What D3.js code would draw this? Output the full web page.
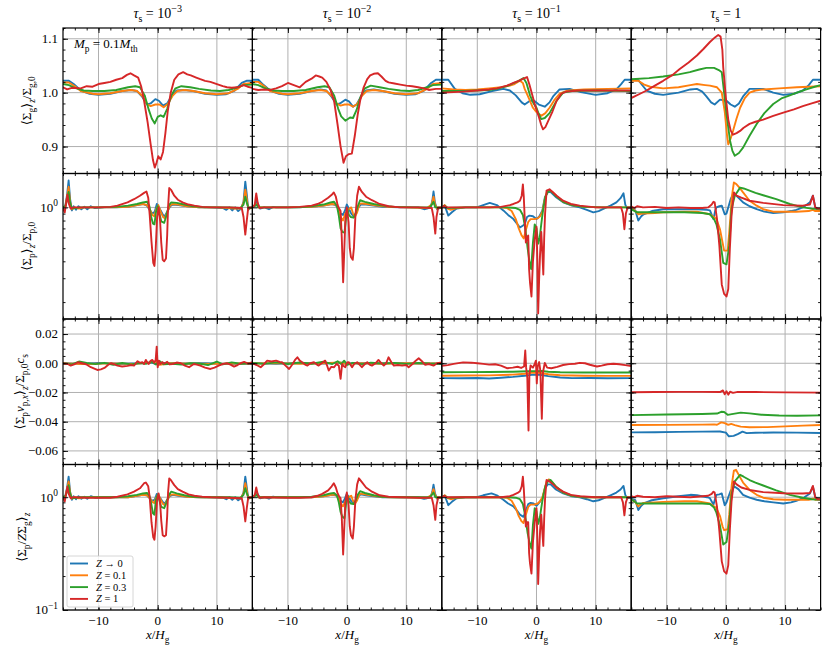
<!DOCTYPE html>
<html>
<head>
<meta charset="utf-8">
<script src="https://cdn.jsdelivr.net/npm/d3@7"></script>
<style>
body { margin: 0; background: #fff; }
text { font-family: "Liberation Serif", "DejaVu Serif", serif; fill: #000; }
</style>
</head>
<body>
<svg id="fig" width="830" height="653" font-family="Liberation Serif"></svg>
<script>
// columns: tau_s = 1e-3, 1e-2, 1e-1, 1 ; series: Z->0, 0.1, 0.3, 1
var tauExps = ["−3", "−2", "−1", null];
var seriesNames = ["→ 0", "= 0.1", "= 0.3", "= 1"];
var colors = ["#1f77b4", "#ff7f0e", "#2ca02c", "#d62728"];
var xMajor = [-10, 0, 10];
var gasTicks = [0.9, 1.0, 1.1];
var fluxTicks = [0.02, 0, -0.02, -0.04, -0.06];
var dustTicks = [1];
var ratioTicks = [0.1, 1];

// row 1 : <Sigma_g>_z / Sigma_g,0
var gas_t3 = [
 [[-16,1.022],[-15,1.022],[-14.2,1.016],[-13,1.004],[-11.5,0.998],[-10,0.996],[-8,0.998],[-6,1.003],[-4.5,1.005],[-3.5,1.003],[-2.6,0.992],[-1.8,0.978],[-1.2,0.98],[-0.4,0.988],[0.2,0.985],[0.9,0.976],[1.6,0.98],[2.4,0.995],[3.2,1.004],[4.5,1.005],[6,1.003],[8,0.998],[10,0.996],[11.5,0.997],[13,1.004],[14.2,1.018],[15,1.022],[16,1.022]],
 [[-16,1.019],[-15,1.019],[-14,1.012],[-13,1.003],[-11,0.998],[-10,0.997],[-8,0.999],[-6,1.003],[-4.5,1.005],[-3.5,1.003],[-2.5,0.993],[-1.8,0.979],[-1.2,0.975],[-0.4,0.978],[0.3,0.978],[1,0.973],[1.7,0.979],[2.5,0.994],[3.3,1.003],[4.5,1.005],[6,1.003],[8,0.999],[10,0.997],[12,0.999],[13.5,1.007],[14.5,1.016],[16,1.018]],
 [[-16,1.016],[-15,1.014],[-14,1.009],[-12.5,1.004],[-11,1.003],[-9,1.003],[-7,1.005],[-5,1.01],[-3.8,1.012],[-3,1.01],[-2.2,0.995],[-1.5,0.968],[-1,0.952],[-0.5,0.943],[0,0.955],[0.5,0.958],[1,0.955],[1.6,0.97],[2.3,0.995],[3,1.008],[4,1.012],[5.5,1.01],[7,1.007],[9,1.004],[10.5,1.003],[12,1.005],[13.5,1.01],[14.5,1.014],[16,1.015]],
 [[-16,1.01],[-15.3,1.006],[-14.5,1.009],[-13,1.008],[-12,1.012],[-11,1.011],[-10,1.016],[-9,1.018],[-8,1.02],[-7,1.024],[-6,1.027],[-5.2,1.033],[-4.6,1.036],[-4,1.032],[-3.3,1.028],[-2.8,1.012],[-2.3,0.985],[-1.7,0.945],[-1.2,0.905],[-0.8,0.875],[-0.5,0.861],[-0.2,0.87],[0.1,0.882],[0.5,0.876],[0.9,0.89],[1.3,0.925],[1.7,0.966],[2.2,1.0],[2.8,1.024],[3.5,1.034],[4.3,1.038],[5,1.034],[5.6,1.032],[6.5,1.028],[7.2,1.025],[8,1.022],[8.9,1.02],[10,1.016],[11,1.012],[11.7,1.01],[12.5,1.009],[13.5,1.01],[14.5,1.014],[15.2,1.011],[16,1.009]]
];
var gas_t2 = [
 [[-16,1.024],[-15,1.024],[-14.2,1.015],[-13,1.004],[-11.5,0.998],[-10,0.996],[-8,0.998],[-6,1.003],[-4.5,1.006],[-3.5,1.004],[-2.6,0.992],[-1.8,0.978],[-1.2,0.98],[-0.3,0.987],[0.3,0.984],[1,0.974],[1.6,0.978],[2.4,0.994],[3.2,1.004],[4.5,1.006],[6,1.003],[8,0.998],[10,0.996],[11.5,0.997],[13,1.004],[14.2,1.018],[15,1.024],[16,1.024]],
 [[-16,1.02],[-15,1.02],[-14,1.012],[-13,1.003],[-11,0.998],[-10,0.997],[-8,0.999],[-6,1.003],[-4.5,1.005],[-3.5,1.003],[-2.5,0.993],[-1.8,0.98],[-1.1,0.976],[-0.4,0.978],[0.3,0.978],[1,0.974],[1.7,0.979],[2.5,0.994],[3.3,1.003],[4.5,1.005],[6,1.003],[8,0.999],[10,0.997],[12,0.999],[13.5,1.007],[14.5,1.016],[16,1.018]],
 [[-16,1.016],[-15,1.014],[-14,1.009],[-12.5,1.004],[-11,1.003],[-9,1.003],[-7,1.005],[-5,1.01],[-3.8,1.012],[-3,1.01],[-2.2,0.995],[-1.5,0.97],[-1,0.956],[-0.3,0.948],[0.5,0.954],[1,0.953],[1.6,0.968],[2.3,0.993],[3,1.008],[4,1.013],[5.5,1.01],[7,1.007],[9,1.004],[10.5,1.003],[12,1.005],[13.5,1.01],[14.5,1.014],[16,1.015]],
 [[-16,1.007],[-15,1.005],[-14,1.006],[-13,1.005],[-12,1.008],[-11,1.012],[-10,1.018],[-9,1.014],[-8,1.01],[-7,1.02],[-6,1.026],[-5.3,1.032],[-4.7,1.03],[-4.2,1.028],[-3.5,1.02],[-2.8,1.005],[-2.2,0.985],[-1.6,0.94],[-1.1,0.9],[-0.6,0.87],[-0.2,0.882],[0.3,0.886],[0.8,0.887],[1.3,0.92],[1.8,0.96],[2.2,0.985],[2.8,1.01],[3.4,1.025],[3.9,1.032],[4.5,1.035],[5.2,1.036],[5.8,1.03],[6.5,1.022],[7,1.019],[8,1.017],[9,1.015],[10,1.013],[11,1.012],[12,1.01],[13,1.008],[13.8,1.005],[15,1.007],[16,1.007]]
];
var gas_t1 = [
 [[-16,1.024],[-14.9,1.024],[-13.8,1.007],[-12.5,0.999],[-11.2,0.996],[-9.6,0.997],[-7.5,1.003],[-5.6,1.007],[-4.5,1.004],[-3.5,0.995],[-2.5,0.982],[-2,0.978],[-1.1,0.985],[-0.4,0.985],[0.4,0.978],[1.4,0.974],[2.2,0.982],[2.8,0.993],[3.9,1.006],[5.6,1.007],[7.5,1.001],[10,0.996],[12,0.999],[13.5,1.006],[14.3,1.016],[14.9,1.024],[16,1.024]],
 [[-16,1.008],[-14,1.006],[-12,1.005],[-10,1.006],[-8,1.008],[-6,1.01],[-4.5,1.013],[-3.7,1.016],[-2.8,1.022],[-2.3,1.018],[-2,1.007],[-1.3,0.99],[-0.6,0.972],[0,0.964],[0.8,0.957],[1.5,0.962],[2.2,0.972],[3,0.986],[3.9,0.998],[5,1.003],[5.6,1.004],[8,1.006],[12,1.007],[16,1.008]],
 [[-16,1.003],[-12,1.003],[-8,1.005],[-6.7,1.007],[-5,1.012],[-4,1.017],[-3,1.022],[-2.2,1.027],[-1.7,1.018],[-1.1,0.995],[-0.5,0.98],[0,0.972],[0.4,0.96],[0.8,0.951],[1.4,0.953],[2.2,0.962],[3.4,0.985],[4.5,1.0],[6,1.003],[10,1.004],[16,1.003]],
 [[-16,1.0],[-14,1.001],[-12.4,1.002],[-10,1.004],[-8,1.006],[-6.7,1.008],[-5,1.013],[-3.9,1.018],[-3,1.022],[-2.2,1.026],[-1.6,1.029],[-1.2,1.015],[-0.7,0.995],[-0.2,0.975],[0.4,0.955],[0.8,0.94],[1.1,0.932],[1.5,0.936],[2,0.948],[2.7,0.965],[3.4,0.985],[4.2,0.998],[5,1.002],[7,1.004],[10,1.004],[13,1.004],[16,1.004]]
];
var gas_t0 = [
 [[-16,1.024],[-14.8,1.023],[-13.4,1.004],[-12,0.998],[-10.6,0.996],[-8,1.0],[-6,1.006],[-4.9,1.007],[-4,1.002],[-3.3,0.993],[-2.5,0.982],[-1.9,0.978],[-1,0.987],[0.1,0.985],[0.8,0.978],[1.5,0.974],[2.2,0.98],[2.9,0.993],[4,1.007],[6.3,1.007],[8,1.0],[9.7,0.996],[11.5,0.998],[13,1.004],[14,1.014],[14.7,1.024],[16,1.024]],
 [[-16,1.022],[-14.8,1.022],[-13.8,1.015],[-12.8,1.011],[-10.6,1.008],[-8,1.01],[-6,1.014],[-4.9,1.016],[-3.5,1.014],[-2.7,1.013],[-1.5,1.01],[-0.7,1.0],[-0.2,0.965],[0.2,0.92],[0.4,0.904],[0.8,0.915],[1.2,0.929],[1.8,0.952],[2.4,0.972],[3.2,0.99],[4,1.0],[5,1.004],[6.3,1.006],[9,1.008],[12,1.01],[14,1.011],[16,1.012]],
 [[-16,1.025],[-13,1.027],[-10.6,1.03],[-8,1.034],[-6.1,1.038],[-4.5,1.043],[-3.3,1.046],[-2,1.046],[-1.2,1.042],[-0.7,1.038],[-0.3,1.0],[0.1,0.96],[0.7,0.911],[1.1,0.892],[1.5,0.883],[2.2,0.888],[2.9,0.898],[4,0.92],[5.2,0.942],[6.5,0.962],[8,0.979],[9.5,0.99],[10.8,0.995],[12,1.0],[13.6,1.006],[15,1.011],[16,1.014]],
 [[-16,0.99],[-14.5,0.998],[-13.4,1.004],[-12,1.013],[-10.6,1.022],[-9,1.033],[-7.8,1.044],[-6.3,1.056],[-4.9,1.069],[-3.8,1.081],[-2.7,1.094],[-1.8,1.103],[-1.3,1.107],[-0.9,1.104],[-0.6,1.08],[-0.45,1.047],[0,0.99],[0.4,0.95],[0.8,0.93],[1.2,0.922],[1.8,0.925],[2.4,0.929],[3,0.935],[4,0.942],[5,0.946],[6.3,0.95],[8,0.957],[9.7,0.963],[11.5,0.969],[13,0.975],[14.5,0.98],[16,0.985]]
];

// row 2 : <Sigma_p>_z / Sigma_p,0 (log)
var dust_t3 = [
 [[-16,1.0],[-15.6,1.03],[-15.3,1.25],[-15.05,1.58],[-14.8,1.15],[-14.5,0.95],[-14.2,1.02],[-13.8,0.96],[-13.4,1.02],[-12.9,0.97],[-12.4,1.01],[-11.9,0.97],[-11.3,1.02],[-10.6,0.99],[-9,1.0],[-7,1.0],[-5,1.01],[-3.5,1.04],[-2.5,1.06],[-1.8,1.03],[-1.3,0.95],[-0.9,0.9],[-0.5,0.93],[-0.15,1.06],[0.1,1.02],[0.5,0.95],[0.9,0.88],[1.2,0.86],[1.6,0.93],[2.1,1.02],[2.6,1.05],[3.5,1.04],[5,1.02],[7,1.0],[9,1.0],[11,0.99],[11.6,0.96],[12.1,1.0],[12.6,0.95],[13.1,1.0],[13.6,0.94],[14.1,0.98],[14.5,1.1],[14.8,1.55],[15.05,1.25],[15.3,0.96],[15.6,1.0],[16,1.0]],
 [[-16,1.0],[-15.6,1.02],[-15.3,1.2],[-15.05,1.42],[-14.8,1.1],[-14.5,0.97],[-14,1.0],[-13.3,0.98],[-12.5,1.0],[-11,1.0],[-8,1.0],[-5,1.01],[-3.5,1.04],[-2.5,1.06],[-1.8,1.04],[-1.3,0.96],[-0.9,0.88],[-0.6,0.86],[-0.2,0.98],[0.1,1.04],[0.5,0.93],[0.9,0.85],[1.2,0.83],[1.6,0.92],[2.1,1.04],[2.6,1.06],[3.5,1.05],[5,1.02],[7,1.0],[10,1.0],[12,0.99],[13,0.98],[14,0.98],[14.5,1.08],[14.8,1.35],[15.05,1.15],[15.3,0.97],[16,1.0]],
 [[-16,1.0],[-15.6,1.02],[-15.3,1.15],[-15.05,1.3],[-14.8,1.08],[-14.5,0.98],[-13,1.0],[-10,1.0],[-7,1.01],[-5,1.03],[-3.5,1.06],[-2.5,1.09],[-1.8,1.1],[-1.4,1.02],[-1.1,0.85],[-0.8,0.76],[-0.55,0.75],[-0.3,0.92],[0,1.02],[0.3,0.9],[0.6,0.79],[1.1,0.77],[1.5,0.88],[1.9,1.04],[2.3,1.09],[3.2,1.08],[4.5,1.05],[6,1.02],[8,1.0],[12,1.0],[14,0.99],[14.5,1.05],[14.8,1.2],[15.05,1.08],[15.4,0.98],[16,1.0]],
 [[-16,0.99],[-15.7,0.92],[-15.5,1.05],[-15.25,1.24],[-15,1.06],[-14.7,0.98],[-14.2,1.0],[-12,1.0],[-10,1.0],[-8,1.01],[-6.8,1.03],[-5.1,1.09],[-4,1.15],[-3,1.22],[-2.3,1.28],[-1.9,1.31],[-1.6,1.18],[-1.35,0.88],[-1.05,0.56],[-0.75,0.39],[-0.55,0.37],[-0.35,0.48],[-0.1,0.85],[0.15,1.0],[0.4,0.8],[0.6,0.55],[0.85,0.41],[1.1,0.4],[1.4,0.42],[1.6,0.62],[1.75,1.0],[1.95,1.39],[2.3,1.34],[2.8,1.22],[3.4,1.14],[4.2,1.09],[5.2,1.05],[6.2,1.03],[7.5,1.01],[9,1.0],[12,1.0],[14.2,0.99],[14.5,0.85],[14.8,0.63],[15.05,0.8],[15.3,1.0],[16,1.0]]
];
var dust_t2 = [
 [[-16,1.0],[-15.6,1.02],[-15.3,1.12],[-15.05,1.05],[-14.7,0.98],[-14,1.0],[-13.2,0.97],[-12.5,1.01],[-12,1.0],[-9,1.0],[-6,1.01],[-4,1.03],[-2.6,1.06],[-1.9,1.04],[-1.5,0.98],[-1.1,0.9],[-0.7,0.88],[-0.35,0.95],[-0.05,1.05],[0.3,0.98],[0.7,0.9],[1.1,0.86],[1.5,0.9],[1.9,1.0],[2.3,1.05],[3.2,1.05],[4.5,1.03],[6,1.01],[9,1.0],[12,1.0],[13,0.97],[13.5,0.98],[14.1,1.0],[14.4,1.12],[14.6,1.31],[14.85,1.08],[15.2,0.97],[16,1.0]],
 [[-16,1.0],[-15.3,1.06],[-15,1.0],[-14,1.0],[-10,1.0],[-6,1.01],[-4,1.03],[-2.6,1.06],[-1.9,1.05],[-1.5,0.98],[-1.1,0.85],[-0.7,0.8],[-0.3,0.9],[0.1,0.95],[0.5,0.99],[0.7,1.0],[1.0,0.9],[1.3,0.85],[1.7,0.92],[2.1,1.06],[2.5,1.07],[3.5,1.06],[5,1.03],[7,1.01],[10,1.0],[13.5,0.99],[14.3,1.05],[14.6,1.2],[14.85,1.05],[15.2,0.98],[16,1.0]],
 [[-16,1.0],[-15.3,1.05],[-15,1.0],[-12,1.0],[-8,1.0],[-6,1.02],[-4,1.05],[-2.8,1.09],[-2.2,1.1],[-1.7,1.02],[-1.4,0.87],[-1.1,0.7],[-0.8,0.66],[-0.45,0.65],[-0.15,0.85],[0.05,0.98],[0.3,0.88],[0.6,0.85],[1.1,0.84],[1.5,0.92],[1.8,1.02],[2.2,1.13],[3,1.1],[4.5,1.06],[6,1.03],[8,1.01],[11,1.0],[14,1.0],[14.6,1.1],[14.9,1.0],[16,1.0]],
 [[-16,1.0],[-15.6,1.05],[-15.35,1.27],[-15.1,1.08],[-14.8,0.99],[-14,1.0],[-10,1.0],[-8,1.01],[-6,1.03],[-5,1.06],[-4.2,1.1],[-3.2,1.18],[-2.6,1.24],[-2.25,1.29],[-1.9,1.2],[-1.6,1.04],[-1.35,0.98],[-1.1,0.94],[-0.9,0.6],[-0.67,0.28],[-0.5,0.45],[-0.3,0.8],[-0.05,1.0],[0.25,0.78],[0.45,0.5],[0.65,0.43],[0.95,0.41],[1.15,0.5],[1.4,0.86],[1.7,1.22],[2.0,1.42],[2.5,1.3],[3.2,1.2],[4.2,1.13],[5.5,1.06],[7,1.02],[9,1.0],[12,1.0],[14.3,0.99],[14.6,0.85],[14.9,0.64],[15.1,0.85],[15.4,1.0],[16,1.0]]
];
var dust_t1 = [
 [[-16,1.03],[-15.4,1.0],[-14.9,0.87],[-14.3,0.92],[-13.5,0.98],[-12,1.0],[-10.1,1.0],[-9,1.04],[-7.9,1.08],[-6.7,1.04],[-5.6,0.95],[-4.8,0.88],[-3.9,0.82],[-3.3,0.76],[-2.8,0.71],[-2.4,0.73],[-2,0.75],[-1.6,0.85],[-1.2,0.87],[-0.6,0.86],[0,0.82],[0.5,0.86],[1,0.95],[1.4,1.18],[1.9,1.3],[2.4,1.3],[3.2,1.2],[4.5,1.09],[6,1.03],[7.3,1.0],[8.5,0.96],[9.6,0.92],[10.5,0.94],[11.2,0.97],[12.5,1.03],[13.5,1.09],[14.2,1.17],[14.7,1.27],[15.0,1.05],[15.3,0.98],[16,1.0]],
 [[-16,1.0],[-15.5,1.04],[-15,0.98],[-14.5,0.96],[-13.5,0.99],[-12,1.0],[-8,1.0],[-6,1.0],[-5,0.99],[-4.2,0.94],[-3.5,0.82],[-3,0.7],[-2.5,0.62],[-2.15,0.59],[-1.8,0.68],[-1.4,0.78],[-1,0.82],[-0.4,0.82],[0.2,0.83],[0.6,0.86],[1,0.93],[1.3,1.1],[1.7,1.28],[2.1,1.33],[2.7,1.3],[3.5,1.2],[4.5,1.1],[6,1.04],[8,1.01],[11,1.0],[14,1.0],[16,1.0]],
 [[-16,1.0],[-15.5,1.03],[-15,0.99],[-12,1.0],[-8,1.0],[-5,1.0],[-3.5,0.99],[-2.8,0.96],[-2.3,0.88],[-1.9,0.7],[-1.5,0.5],[-1.2,0.4],[-0.9,0.35],[-0.6,0.55],[-0.3,0.75],[0,0.7],[0.3,0.54],[0.55,0.6],[0.8,0.75],[1.1,0.95],[1.5,1.2],[2.0,1.32],[2.4,1.33],[3.2,1.22],[4.5,1.1],[6,1.04],[8,1.01],[11,1.0],[16,1.0]],
 [[-16,1.0],[-15.6,1.03],[-15.2,1.0],[-12,1.0],[-8,1.0],[-6,1.01],[-4.5,1.04],[-3.9,1.06],[-3.2,1.09],[-2.8,1.12],[-2.5,1.22],[-2.3,1.48],[-2.15,1.2],[-2.0,0.85],[-1.8,0.55],[-1.6,0.6],[-1.4,0.62],[-1.25,0.35],[-1.1,0.28],[-0.85,0.22],[-0.6,0.4],[-0.3,0.58],[0,0.72],[0.15,0.4],[0.28,0.165],[0.45,0.3],[0.6,0.45],[0.8,0.66],[1.0,0.45],[1.15,0.32],[1.3,0.6],[1.45,0.9],[1.7,1.33],[2.2,1.36],[2.8,1.29],[3.4,1.22],[4.5,1.12],[5.8,1.06],[7.3,1.03],[10,1.0],[13,1.0],[14.3,1.0],[14.6,0.9],[14.85,0.69],[15.1,0.9],[15.4,1.0],[16,1.0]]
];
var dust_t0 = [
 [[-16,0.97],[-15.3,0.95],[-14.8,0.8],[-14.3,0.86],[-13.9,0.89],[-12.5,0.94],[-10.6,0.97],[-8,0.97],[-4.9,0.97],[-3.2,0.96],[-2.7,0.95],[-2.1,0.82],[-1.8,0.95],[-1.6,1.0],[-1.1,1.02],[-0.7,1.03],[-0.2,0.89],[0.1,0.9],[0.4,1.0],[0.8,1.15],[1.2,1.25],[1.8,1.22],[2.9,1.09],[4,1.02],[5.2,0.97],[6.5,0.93],[8,0.91],[9.7,0.92],[11,0.94],[11.9,0.96],[13,1.0],[14.2,1.09],[14.7,1.22],[15.1,1.0],[15.5,0.97],[16,0.97]],
 [[-16,0.98],[-15.4,0.95],[-14.8,0.89],[-14,0.9],[-12,0.91],[-10.6,0.92],[-7,0.93],[-4.9,0.93],[-2.7,0.89],[-1.6,0.82],[-1,0.69],[-0.56,0.55],[-0.3,0.48],[0.3,0.48],[0.56,0.65],[0.8,0.9],[0.95,1.15],[1.35,1.53],[1.8,1.48],[2.4,1.38],[2.9,1.29],[4,1.12],[5.2,1.03],[6.3,0.97],[8,0.93],[10,0.93],[11.9,0.93],[14,0.94],[14.7,0.96],[15.1,0.94],[16,0.94]],
 [[-16,0.97],[-15,0.92],[-14,0.92],[-10.6,0.92],[-7,0.92],[-4,0.91],[-2.7,0.89],[-2,0.82],[-1.6,0.75],[-1,0.58],[-0.45,0.39],[0.1,0.38],[0.56,0.52],[0.95,0.97],[1.5,1.22],[2.4,1.4],[3,1.38],[4,1.33],[5,1.28],[6.3,1.23],[8.5,1.15],[10.8,1.06],[13,1.0],[14.5,0.98],[16,0.97]],
 [[-16,1.02],[-15.5,0.99],[-15,1.02],[-14,1.0],[-12,1.01],[-10,0.99],[-8,1.0],[-6,0.99],[-4,0.99],[-3,1.0],[-2.4,1.05],[-2.1,1.1],[-1.9,1.09],[-1.5,0.82],[-1.1,0.52],[-0.7,0.27],[-0.3,0.23],[0.1,0.22],[0.4,0.25],[0.67,0.5],[0.95,0.87],[1.35,1.29],[1.8,1.22],[2.6,1.18],[4,1.12],[6.3,1.08],[9.7,1.04],[13,1.03],[14.2,1.05],[14.7,1.22],[15.1,1.0],[15.5,0.98],[16,0.98]]
];

// row 3 : <Sigma_p v_p,x>_z / (Sigma_p,0 c_s)
var flux_t3 = [
 [[-16,0.0],[-13,-0.0004],[-10,0.0002],[-6,-0.0003],[-3,0.0],[-1,0.0005],[0,-0.001],[1,0.0003],[4,-0.0002],[8,0.0],[12,-0.0004],[16,-0.0003]],
 [[-16,-0.0002],[-12,-0.0005],[-8,-0.0001],[-4,-0.0004],[-1.5,0.0005],[-0.3,0.0012],[0.3,-0.001],[2,0.0],[6,-0.0003],[10,-0.0004],[14,-0.0001],[16,-0.0002]],
 [[-16,0.0002],[-14.5,-0.0008],[-13.3,0.0012],[-12,0.0002],[-10.5,-0.0006],[-9,0.0003],[-7.5,-0.001],[-6,0.0002],[-4.5,-0.0008],[-3,0.0002],[-2,-0.0004],[-1,0.001],[-0.3,-0.0008],[0.3,0.0015],[1,-0.0007],[2.5,-0.0003],[4,-0.0009],[5.5,0.0],[7,-0.0002],[8.5,-0.0012],[10,0.0012],[11,-0.0007],[12.5,0.0006],[14,-0.0003],[16,0.0002]],
 [[-16,0.0],[-15.2,-0.0005],[-14.7,-0.0016],[-14,-0.0005],[-13.5,0.0007],[-12.8,0.0],[-12.1,-0.0007],[-11.3,-0.0027],[-10.2,-0.0046],[-9.6,-0.0042],[-9,-0.0032],[-8.4,-0.0012],[-7.9,0.0],[-7.3,-0.0008],[-6.8,-0.0016],[-6,-0.0022],[-5.1,-0.0018],[-4.5,-0.0012],[-4,-0.0016],[-3.4,0.0014],[-3,0.0003],[-2.6,0.0008],[-2.3,-0.0005],[-2,0.0023],[-1.7,0.0002],[-1.5,-0.0005],[-1.2,0.0017],[-0.9,0.0023],[-0.6,0.0003],[-0.35,0.002],[-0.17,0.0114],[0,-0.0027],[0.2,0.0018],[0.45,-0.0005],[0.8,0.0008],[1.1,-0.0003],[1.6,0.001],[2,-0.0008],[2.5,-0.0005],[3.2,0.0005],[3.9,0.0],[4.6,-0.0016],[5.3,-0.0027],[6.1,-0.0005],[6.6,-0.0009],[7.2,-0.0016],[8,-0.003],[8.9,-0.0039],[9.6,-0.003],[10.3,-0.0016],[11,-0.0005],[11.7,0.0],[12.3,-0.0009],[12.9,-0.0023],[13.5,-0.0012],[14,0.0],[14.6,0.0009],[15.3,-0.0002],[16,0.0007]]
];
var flux_t2 = [
 [[-16,0.0001],[-12,-0.0003],[-8,0.0002],[-4,-0.0002],[-1,0.0004],[0,-0.0006],[1,0.0002],[5,-0.0002],[9,0.0001],[13,-0.0003],[16,-0.0002]],
 [[-16,-0.0002],[-12,0.0001],[-8,-0.0003],[-4,0.0],[-1.2,0.0006],[0,-0.0008],[1.5,0.0001],[6,-0.0003],[10,0.0],[14,-0.0002],[16,-0.0001]],
 [[-16,0.0003],[-14,-0.0004],[-12,0.0006],[-10,-0.0005],[-8,0.0005],[-6,-0.0003],[-4,0.001],[-2.5,-0.0005],[-1.6,0.0014],[-1,-0.0006],[-0.5,0.0018],[0,-0.001],[1,0.0003],[2.5,-0.0006],[4,0.0004],[6,-0.0002],[8,0.0003],[10,-0.0004],[12,0.0003],[14,-0.0002],[16,-0.0004]],
 [[-16,0.0],[-15.3,-0.0012],[-14.6,-0.0027],[-14,-0.0005],[-13.5,0.0018],[-12.8,0.0012],[-12,0.0018],[-11.4,0.0009],[-11,0.0007],[-10.4,-0.0016],[-9.8,-0.0039],[-9.2,-0.0005],[-8.8,0.0023],[-8.4,0.0041],[-8,0.0018],[-7.6,0.0007],[-7.1,-0.0009],[-6.7,-0.0016],[-6.2,0.0],[-5.6,0.0007],[-5.1,-0.0009],[-4.8,-0.0016],[-4.3,0.0],[-3.7,0.0018],[-3.4,-0.0014],[-3.1,-0.005],[-2.7,-0.0025],[-2.2,-0.0027],[-1.8,-0.0005],[-1.4,-0.0016],[-1.1,-0.0107],[-0.84,-0.0005],[-0.6,-0.0018],[-0.3,-0.0027],[0,0.0005],[0.3,0.0007],[0.6,-0.0012],[0.84,-0.0027],[1.2,-0.0005],[1.7,0.0007],[2.1,-0.0009],[2.5,-0.0027],[3,-0.0005],[3.4,0.0007],[3.8,-0.0009],[4.2,-0.0016],[4.8,0.0],[5.3,0.0023],[5.8,0.0],[6.2,-0.0016],[6.6,0.0],[7,0.0041],[7.5,0.0005],[7.9,-0.0016],[8.6,-0.0012],[9.3,-0.0016],[10,-0.0012],[10.4,-0.0027],[11,-0.0007],[11.6,0.0018],[12.1,0.0034],[12.6,0.0016],[13.2,-0.0011],[13.8,-0.0005],[14.6,-0.0016],[15.2,0.0],[16,0.0005]]
];
var flux_t1 = [
 [[-16,-0.0102],[-13,-0.0103],[-10,-0.0101],[-8,-0.0104],[-6,-0.0099],[-4,-0.0093],[-2,-0.0085],[-0.5,-0.0078],[0.5,-0.0079],[2,-0.0088],[4,-0.0097],[6,-0.0102],[9,-0.0101],[12,-0.0103],[16,-0.0102]],
 [[-16,-0.0085],[-12,-0.0084],[-8,-0.0083],[-4,-0.0078],[-2,-0.0072],[-0.5,-0.0064],[0.5,-0.0065],[2,-0.0075],[4,-0.0082],[8,-0.0085],[12,-0.0086],[16,-0.0086]],
 [[-16,-0.0062],[-12,-0.0061],[-8,-0.006],[-4,-0.0058],[-1.5,-0.0055],[0,-0.0054],[0.8,-0.0052],[2,-0.0058],[4,-0.0062],[8,-0.0063],[12,-0.0063],[16,-0.0063]],
 [[-16,-0.0018],[-15,-0.0013],[-14,-0.0004],[-12.4,0.0006],[-11,0.0004],[-10,0.0],[-9,-0.0004],[-8,-0.0009],[-7,-0.0007],[-6,-0.0016],[-5,-0.0034],[-4,-0.003],[-3.2,-0.0024],[-2.6,-0.0032],[-2.1,-0.0022],[-1.9,0.0087],[-1.75,-0.003],[-1.55,-0.01],[-1.35,-0.046],[-1.2,-0.008],[-1.0,-0.0015],[-0.6,-0.003],[-0.3,-0.0005],[-0.1,0.0018],[0.05,-0.0138],[0.2,-0.002],[0.45,0.0008],[0.65,-0.005],[0.9,-0.038],[1.1,-0.006],[1.4,0.0002],[1.8,-0.003],[2.5,-0.0034],[3.5,-0.0025],[4.5,-0.0012],[5.5,-0.0006],[6.5,-0.0003],[7.3,0.0003],[8.2,0.0],[9,-0.001],[10.2,-0.0022],[11,-0.0016],[12,-0.0007],[13,-0.0003],[14,-0.0007],[15,-0.0013],[16,-0.0019]]
];
var flux_t0 = [
 [[-16,-0.0473],[-12,-0.0472],[-8,-0.047],[-4,-0.0468],[-1,-0.0467],[0,-0.0475],[0.5,-0.05],[1.3,-0.0497],[2,-0.0485],[2.8,-0.0468],[3.5,-0.0478],[5,-0.0476],[8,-0.0474],[12,-0.0475],[16,-0.0477]],
 [[-16,-0.0423],[-10,-0.0422],[-4,-0.042],[-2,-0.0418],[-1.5,-0.0421],[-0.8,-0.0405],[-0.2,-0.041],[0.4,-0.0422],[0.9,-0.0415],[1.5,-0.0423],[2.5,-0.0434],[4,-0.0438],[7,-0.0437],[10,-0.0432],[13,-0.0427],[16,-0.0423]],
 [[-16,-0.0355],[-10,-0.0351],[-4,-0.0347],[-1.5,-0.0344],[-0.8,-0.0332],[-0.3,-0.0334],[0.3,-0.0353],[1,-0.0348],[2.5,-0.0338],[4,-0.0343],[6,-0.0352],[9,-0.0358],[12,-0.0359],[16,-0.0357]],
 [[-16,-0.0198],[-12,-0.0197],[-8,-0.0196],[-4,-0.0196],[-1,-0.0197],[-0.5,-0.0186],[-0.2,-0.0212],[0.1,-0.0192],[0.4,-0.0215],[0.7,-0.0195],[1.2,-0.0203],[2,-0.0196],[5,-0.0197],[10,-0.0199],[16,-0.0201]]
];

// row 4 : <Sigma_p / Z Sigma_g>_z (log)
var ratio_t3 = [
 [[-16,1.0],[-15.6,1.03],[-15.3,1.22],[-15.05,1.52],[-14.8,1.12],[-14.5,0.95],[-14.2,1.02],[-13.8,0.96],[-13.4,1.02],[-12.9,0.97],[-12.4,1.01],[-11.9,0.97],[-11.3,1.02],[-10.6,0.99],[-9,1.0],[-7,1.0],[-5,1.0],[-3.5,1.03],[-2.5,1.05],[-1.8,1.04],[-1.3,0.97],[-0.9,0.93],[-0.5,0.95],[-0.15,1.07],[0.1,1.03],[0.5,0.97],[0.9,0.9],[1.2,0.88],[1.6,0.95],[2.1,1.03],[2.6,1.05],[3.5,1.03],[5,1.01],[7,1.0],[9,1.0],[11,0.99],[11.6,0.96],[12.1,1.0],[12.6,0.95],[13.1,1.0],[13.6,0.94],[14.1,0.98],[14.5,1.1],[14.8,1.52],[15.05,1.22],[15.3,0.96],[15.6,1.0],[16,1.0]],
 [[-16,1.0],[-15.6,1.02],[-15.3,1.18],[-15.05,1.38],[-14.8,1.1],[-14.5,0.97],[-14,1.0],[-13.3,0.98],[-12.5,1.0],[-11,1.0],[-8,1.0],[-5,1.0],[-3.5,1.03],[-2.5,1.05],[-1.8,1.04],[-1.3,0.98],[-0.9,0.91],[-0.6,0.89],[-0.2,1.0],[0.1,1.06],[0.5,0.95],[0.9,0.87],[1.2,0.85],[1.6,0.94],[2.1,1.05],[2.6,1.06],[3.5,1.04],[5,1.01],[7,1.0],[10,1.0],[12,0.99],[13,0.98],[14,0.98],[14.5,1.08],[14.8,1.33],[15.05,1.15],[15.3,0.97],[16,1.0]],
 [[-16,1.0],[-15.6,1.02],[-15.3,1.12],[-15.05,1.28],[-14.8,1.07],[-14.5,0.98],[-13,1.0],[-10,1.0],[-7,1.0],[-5,1.02],[-3.5,1.05],[-2.5,1.08],[-1.8,1.09],[-1.4,1.03],[-1.1,0.88],[-0.8,0.72],[-0.55,0.7],[-0.3,0.95],[0,1.05],[0.3,0.93],[0.6,0.82],[1.1,0.8],[1.5,0.9],[1.9,1.05],[2.3,1.12],[3.2,1.08],[4.5,1.04],[6,1.01],[8,1.0],[12,1.0],[14,0.99],[14.5,1.05],[14.8,1.2],[15.05,1.08],[15.4,0.98],[16,1.0]],
 [[-16,0.99],[-15.7,0.92],[-15.5,1.05],[-15.25,1.24],[-15,1.06],[-14.7,0.98],[-14.2,1.0],[-12,0.99],[-10,0.99],[-8,0.99],[-6.8,1.01],[-5.1,1.06],[-4,1.12],[-3,1.2],[-2.3,1.33],[-2.0,1.35],[-1.6,1.25],[-1.35,1.0],[-1.05,0.6],[-0.75,0.44],[-0.55,0.42],[-0.35,0.55],[-0.1,0.95],[0.15,1.08],[0.4,0.9],[0.6,0.62],[0.85,0.46],[1.1,0.45],[1.4,0.46],[1.6,0.68],[1.75,1.1],[1.95,1.47],[2.3,1.4],[2.8,1.28],[3.4,1.18],[4.2,1.12],[5.2,1.06],[6.2,1.03],[7.5,1.01],[9,1.0],[12,0.99],[14.2,0.98],[14.5,0.83],[14.8,0.61],[15.05,0.8],[15.3,1.0],[16,1.0]]
];
var ratio_t2 = [
 [[-16,1.0],[-15.6,1.02],[-15.3,1.12],[-15.05,1.05],[-14.7,0.98],[-14,1.0],[-13.2,0.97],[-12.5,1.01],[-12,1.0],[-9,1.0],[-6,1.0],[-4,1.02],[-2.6,1.05],[-1.9,1.04],[-1.5,0.99],[-1.1,0.93],[-0.7,0.9],[-0.35,0.98],[-0.05,1.07],[0.3,1.0],[0.7,0.92],[1.1,0.88],[1.5,0.92],[1.9,1.02],[2.3,1.06],[3.2,1.04],[4.5,1.02],[6,1.0],[9,1.0],[12,1.0],[13,0.97],[13.5,0.98],[14.1,1.0],[14.4,1.12],[14.6,1.29],[14.85,1.08],[15.2,0.97],[16,1.0]],
 [[-16,1.0],[-15.3,1.06],[-15,1.0],[-14,1.0],[-10,1.0],[-6,1.0],[-4,1.02],[-2.6,1.05],[-1.9,1.05],[-1.5,0.99],[-1.1,0.88],[-0.7,0.83],[-0.3,0.92],[0.1,0.98],[0.5,1.02],[0.7,1.03],[1.0,0.93],[1.3,0.87],[1.7,0.94],[2.1,1.07],[2.5,1.07],[3.5,1.05],[5,1.02],[7,1.0],[10,1.0],[13.5,0.99],[14.3,1.05],[14.6,1.18],[14.85,1.05],[15.2,0.98],[16,1.0]],
 [[-16,1.0],[-15.3,1.05],[-15,1.0],[-12,1.0],[-8,1.0],[-6,1.01],[-4,1.04],[-2.8,1.08],[-2.2,1.09],[-1.7,1.03],[-1.4,0.9],[-1.1,0.74],[-0.8,0.67],[-0.45,0.65],[-0.15,0.9],[0.05,1.03],[0.3,0.92],[0.6,0.88],[1.1,0.87],[1.5,0.95],[1.8,1.05],[2.2,1.13],[3,1.09],[4.5,1.04],[6,1.01],[8,1.0],[11,1.0],[14,1.0],[14.6,1.1],[14.9,1.0],[16,1.0]],
 [[-16,1.0],[-15.6,1.05],[-15.35,1.22],[-15.1,1.06],[-14.8,0.99],[-14,1.0],[-10,0.99],[-8,0.99],[-6,1.0],[-5,1.03],[-4.2,1.07],[-3.2,1.15],[-2.6,1.25],[-2.25,1.33],[-1.9,1.22],[-1.6,1.08],[-1.35,1.02],[-1.1,0.98],[-0.9,0.66],[-0.67,0.31],[-0.5,0.5],[-0.3,0.9],[-0.05,1.1],[0.25,0.85],[0.45,0.55],[0.65,0.46],[0.95,0.43],[1.15,0.55],[1.4,0.95],[1.7,1.3],[2.0,1.47],[2.5,1.36],[3.2,1.22],[4.2,1.12],[5.5,1.04],[7,1.01],[9,1.0],[12,0.99],[14.3,0.99],[14.6,0.85],[14.9,0.63],[15.1,0.85],[15.4,1.0],[16,1.0]]
];
var ratio_t1 = [
 [[-16,1.03],[-15.4,1.0],[-14.9,0.85],[-14.3,0.91],[-13.5,0.98],[-12,1.0],[-10.1,1.0],[-9,1.04],[-7.6,1.08],[-6.7,1.04],[-5.6,0.95],[-4.8,0.88],[-3.9,0.83],[-3.3,0.76],[-2.8,0.7],[-2.2,0.67],[-1.8,0.76],[-1.4,0.87],[-1,0.89],[-0.5,0.88],[0,0.84],[0.5,0.9],[1,0.98],[1.4,1.18],[1.9,1.3],[2.4,1.3],[3.2,1.18],[4.5,1.08],[6,1.02],[7.3,1.0],[8.5,0.96],[9.6,0.92],[10.5,0.94],[11.2,0.97],[12.5,1.04],[13.5,1.1],[14.2,1.17],[14.7,1.26],[15.0,1.05],[15.3,0.98],[16,1.0]],
 [[-16,1.0],[-15.5,1.04],[-15,0.98],[-14.5,0.96],[-13.5,0.99],[-12,1.0],[-8,1.0],[-6,1.0],[-5,0.99],[-4.2,0.93],[-3.5,0.8],[-3,0.68],[-2.5,0.61],[-2.2,0.59],[-1.8,0.7],[-1.4,0.82],[-1,0.86],[-0.4,0.86],[0.2,0.88],[0.6,0.92],[1,1.0],[1.3,1.15],[1.7,1.38],[2.1,1.44],[2.7,1.35],[3.5,1.2],[4.5,1.1],[6,1.03],[8,1.0],[11,1.0],[14,1.0],[16,1.0]],
 [[-16,1.0],[-15.5,1.03],[-15,0.99],[-12,1.0],[-8,1.0],[-5,1.0],[-3.5,0.99],[-2.8,0.96],[-2.3,0.87],[-1.9,0.68],[-1.5,0.48],[-1.2,0.4],[-0.85,0.35],[-0.6,0.57],[-0.3,0.8],[0,0.75],[0.3,0.58],[0.55,0.65],[0.8,0.8],[1.1,1.0],[1.5,1.26],[2.0,1.4],[2.4,1.42],[3.2,1.26],[4.5,1.1],[6,1.03],[8,1.0],[11,1.0],[16,1.0]],
 [[-16,1.0],[-15.6,1.03],[-15.2,1.0],[-12,1.0],[-8,1.0],[-6,1.0],[-4.5,1.02],[-3.9,1.05],[-3.2,1.09],[-2.8,1.13],[-2.5,1.25],[-2.3,1.52],[-2.15,1.2],[-2.0,0.85],[-1.8,0.55],[-1.6,0.6],[-1.4,0.6],[-1.25,0.32],[-1.1,0.26],[-0.85,0.21],[-0.6,0.4],[-0.3,0.6],[0,0.8],[0.15,0.42],[0.28,0.17],[0.45,0.32],[0.6,0.5],[0.8,0.7],[1.0,0.48],[1.15,0.37],[1.3,0.65],[1.45,0.98],[1.7,1.42],[2.2,1.38],[2.8,1.3],[3.4,1.22],[4.5,1.12],[5.8,1.05],[7.3,1.02],[10,1.0],[13,1.0],[14.3,1.0],[14.6,0.9],[14.85,0.69],[15.1,0.9],[15.4,1.0],[16,1.0]]
];
var ratio_t0 = [
 [[-16,0.97],[-15.3,0.94],[-14.8,0.77],[-14.3,0.84],[-13.9,0.88],[-12.5,0.94],[-10.6,0.98],[-8,1.02],[-6,1.05],[-4.9,1.04],[-3.2,1.0],[-2.7,0.98],[-2.1,0.86],[-1.8,0.98],[-1.6,1.05],[-1.1,1.06],[-0.7,1.08],[-0.2,0.85],[0.1,0.9],[0.4,1.0],[0.8,1.14],[1.5,1.24],[2.1,1.18],[2.9,1.05],[4,0.99],[5.2,0.95],[6.5,0.92],[8,0.9],[9.7,0.88],[11,0.9],[11.9,0.93],[13,0.98],[14.2,1.08],[14.7,1.24],[15.1,1.0],[15.5,0.97],[16,0.96]],
 [[-16,0.95],[-15.4,0.92],[-14.8,0.83],[-14,0.89],[-12,0.9],[-10.6,0.91],[-7,0.92],[-4.9,0.92],[-2.7,0.88],[-1.6,0.8],[-1,0.68],[-0.56,0.55],[-0.3,0.51],[0.3,0.52],[0.56,0.7],[0.8,1.0],[1.0,1.3],[1.35,1.72],[1.7,1.75],[2.4,1.5],[2.9,1.35],[4,1.16],[5.2,1.05],[6.3,0.99],[8,0.96],[10,0.95],[11.9,0.95],[14,0.95],[14.7,0.97],[15.1,0.95],[16,0.96]],
 [[-16,0.96],[-15,0.88],[-14,0.88],[-10.6,0.88],[-7,0.88],[-4,0.88],[-2.7,0.87],[-2,0.81],[-1.6,0.73],[-1,0.56],[-0.45,0.38],[0.1,0.4],[0.56,0.58],[0.95,1.05],[1.5,1.38],[2.4,1.58],[3,1.52],[4,1.42],[5,1.35],[6.3,1.27],[8.5,1.15],[10.8,1.05],[13,0.99],[14.5,0.96],[16,0.95]],
 [[-16,1.02],[-15.5,1.0],[-15,1.03],[-14,1.01],[-12,1.0],[-10,1.02],[-8,1.01],[-6,1.0],[-4,1.02],[-3,1.03],[-2.4,1.07],[-2.1,1.12],[-1.9,1.1],[-1.5,0.82],[-1.1,0.5],[-0.7,0.27],[-0.3,0.22],[0.1,0.21],[0.4,0.25],[0.67,0.52],[0.95,0.92],[1.35,1.38],[1.8,1.3],[2.6,1.22],[4,1.16],[6.3,1.11],[9.7,1.085],[13,1.08],[14.2,1.09],[14.7,1.26],[15.1,1.0],[15.5,0.96],[16,0.96]]
];

var svg = d3.select("#fig");
var colLeft = [63, 252.4, 441.8, 631.2], colW = 189.4;
var rowTop = [28, 173.5, 319, 464.5], rowH = 145.5;
var yLabelX = [27, 27, 20, 22];

var x = d3.scaleLinear().domain([-16, 16]).range([0, colW]);

var rows = [
  {y: d3.scaleLinear().domain([0.85, 1.12]).range([rowH, 0]), major: gasTicks,
   minor: d3.range(43, 57).map(function(k){ return k * 0.02; }), log: false,
   fmt: d3.format(".1f"), panels: [gas_t3, gas_t2, gas_t1, gas_t0]},
  {y: d3.scaleLog().domain([0.15, 1.78]).range([rowH, 0]), major: dustTicks,
   minor: [0.2,0.3,0.4,0.5,0.6,0.7,0.8,0.9], log: true, panels: [dust_t3, dust_t2, dust_t1, dust_t0]},
  {y: d3.scaleLinear().domain([-0.0693, 0.0303]).range([rowH, 0]), major: fluxTicks,
   minor: d3.range(-13, 7).map(function(k){ return k * 0.005; }), log: false,
   fmt: d3.format(".2f"), panels: [flux_t3, flux_t2, flux_t1, flux_t0]},
  {y: d3.scaleLog().domain([0.1, 1.95]).range([rowH, 0]), major: ratioTicks,
   minor: [0.2,0.3,0.4,0.5,0.6,0.7,0.8,0.9], log: true, panels: [ratio_t3, ratio_t2, ratio_t1, ratio_t0]}
];
var xMinor = d3.range(-16, 17, 2);

svg.append("defs").append("clipPath").attr("id", "pc")
  .append("rect").attr("width", colW).attr("height", rowH);

function tickSet(g, axis, values, size, tr) {
  var a = g.append("g").attr("transform", tr || null)
    .call(axis.tickValues(values).tickSize(-size).tickFormat(""));
  a.select(".domain").remove();
  a.selectAll("line").attr("stroke", "#000").attr("stroke-width", 0.9);
}

// rich text: parts of [string, style] with style among "", "i", "sub", "subi", "sup"
function rich(t, parts, fs) {
  var off = 0;
  parts.forEach(function(p) {
    var s = p[1], target = 0, size = fs;
    if (s === "sub" || s === "subi") { target = 0.28 * fs; size = fs * 0.72; }
    if (s === "sup") { target = -0.42 * fs; size = fs * 0.72; }
    var ts = t.append("tspan").attr("dy", target - off).attr("font-size", size).text(p[0]);
    if (s === "i" || s === "subi") ts.attr("font-style", "italic");
    off = target;
  });
}

rows.forEach(function(row, r) {
  row.panels.forEach(function(series, c) {
    var g = svg.append("g").attr("transform", "translate(" + colLeft[c] + "," + rowTop[r] + ")");
    var y = row.y;
    g.selectAll(".gx").data(xMajor).enter().append("line")
      .attr("x1", function(d){ return x(d); }).attr("x2", function(d){ return x(d); })
      .attr("y1", 0).attr("y2", rowH).attr("stroke", "#b0b0b0").attr("stroke-width", 1);
    g.selectAll(".gy").data(row.major.filter(function(v){ return v >= y.domain()[0] && v <= y.domain()[1]; }))
      .enter().append("line")
      .attr("x1", 0).attr("x2", colW)
      .attr("y1", function(d){ return y(d); }).attr("y2", function(d){ return y(d); })
      .attr("stroke", "#b0b0b0").attr("stroke-width", 1);

    var line = d3.line().x(function(d){ return x(d[0]); }).y(function(d){ return y(d[1]); });
    g.append("g").attr("clip-path", "url(#pc)").selectAll("path").data(series).enter().append("path")
      .attr("d", line).attr("fill", "none")
      .attr("stroke", function(d, i){ return colors[i]; })
      .attr("stroke-width", 1.9).attr("stroke-linejoin", "round");

    tickSet(g, d3.axisBottom(x), xMajor, 5, "translate(0," + rowH + ")");
    tickSet(g, d3.axisBottom(x), xMinor, 2.5, "translate(0," + rowH + ")");
    tickSet(g, d3.axisTop(x), xMajor, 5);
    tickSet(g, d3.axisTop(x), xMinor, 2.5);
    tickSet(g, d3.axisLeft(y), row.major, 5);
    tickSet(g, d3.axisLeft(y), row.minor, 2.5);
    tickSet(g, d3.axisRight(y), row.major, 5, "translate(" + colW + ",0)");
    tickSet(g, d3.axisRight(y), row.minor, 2.5, "translate(" + colW + ",0)");

    g.append("rect").attr("width", colW).attr("height", rowH)
      .attr("fill", "none").attr("stroke", "#000").attr("stroke-width", 1.2);

    if (c === 0) {
      row.major.forEach(function(v) {
        var t = g.append("text").attr("x", -5).attr("y", y(v) + 4.3)
          .attr("text-anchor", "end").attr("font-size", 13);
        if (row.log) {
          rich(t, [["10", ""], [v === 1 ? "0" : "−1", "sup"]], 13);
        } else {
          t.text(row.fmt(v));
        }
      });
    }
    if (r === 3) {
      xMajor.forEach(function(v) {
        g.append("text").attr("x", x(v)).attr("y", rowH + 15)
          .attr("text-anchor", "middle").attr("font-size", 13).text(d3.format("")(v).replace("-", "−"));
      });
      var xl = g.append("text").attr("x", colW / 2).attr("y", rowH + 29).attr("text-anchor", "middle");
      rich(xl, [["x", "i"], ["/", ""], ["H", "i"], ["g", "sub"]], 13);
    }
  });
});

// column titles
tauExps.forEach(function(e, c) {
  var t = svg.append("text").attr("x", colLeft[c] + colW / 2).attr("y", 18).attr("text-anchor", "middle");
  var parts = [["τ", "i"], ["s", "sub"], [" = " + (e ? "10" : "1"), ""]];
  if (e) parts.push([e, "sup"]);
  rich(t, parts, 14);
});

// y labels
var yLabels = [
  [["⟨Σ", ""], ["g", "sub"], ["⟩", ""], ["z", "subi"], ["/Σ", ""], ["g,0", "sub"]],
  [["⟨Σ", ""], ["p", "sub"], ["⟩", ""], ["z", "subi"], ["/Σ", ""], ["p,0", "sub"]],
  [["⟨Σ", ""], ["p", "sub"], ["v", "i"], ["p,", "sub"], ["x", "subi"], ["⟩", ""], ["z", "subi"], ["/Σ", ""], ["p,0", "sub"], ["c", "i"], ["s", "sub"]],
  [["⟨Σ", ""], ["p", "sub"], ["/", ""], ["Z", "i"], ["Σ", ""], ["g", "sub"], ["⟩", ""], ["z", "subi"]]
];
yLabels.forEach(function(parts, r) {
  var cy = rowTop[r] + rowH / 2;
  var t = svg.append("text").attr("text-anchor", "middle")
    .attr("transform", "translate(" + (yLabelX[r] + 4) + "," + cy + ") rotate(-90)");
  rich(t, parts, 13);
});

// planet mass label
var ml = svg.append("text").attr("x", colLeft[0] + 11).attr("y", rowTop[0] + 20);
rich(ml, [["M", "i"], ["p", "sub"], [" = 0.1", ""], ["M", "i"], ["th", "sub"]], 13);

// legend
var lg = svg.append("g").attr("transform", "translate(" + (colLeft[0] + 4) + "," + (rowTop[3] + rowH - 54) + ")");
lg.append("rect").attr("width", 66).attr("height", 51).attr("rx", 2)
  .attr("fill", "#fff").attr("fill-opacity", 0.85).attr("stroke", "#ccc").attr("stroke-width", 0.8);
seriesNames.forEach(function(n, i) {
  var yy = 7.5 + i * 11.8;
  lg.append("line").attr("x1", 3).attr("x2", 21).attr("y1", yy).attr("y2", yy)
    .attr("stroke", colors[i]).attr("stroke-width", 1.9);
  var t = lg.append("text").attr("x", 29).attr("y", yy + 3.5).attr("font-size", 10.5);
  t.append("tspan").attr("font-style", "italic").text("Z");
  t.append("tspan").text(" " + n);
});
</script>
</body>
</html>
